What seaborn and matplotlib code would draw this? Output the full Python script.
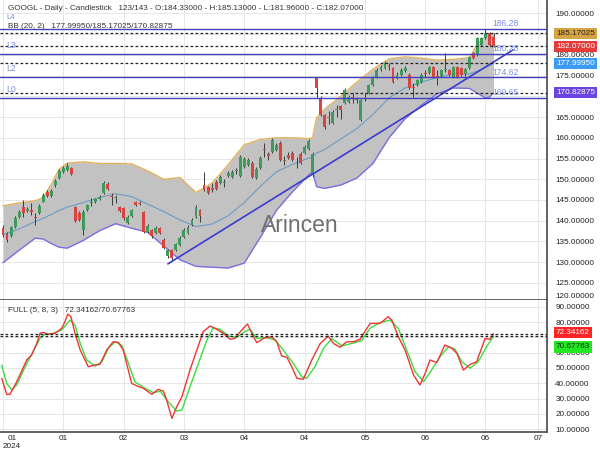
import matplotlib
matplotlib.use("Agg")
import matplotlib.pyplot as plt
import matplotlib.transforms as mtransforms
from matplotlib.ticker import FuncFormatter
import numpy as np
import pandas as pd
import seaborn as sns

# ---------------- data ----------------
opens = [138.3, 136.8, 136.4, 138.5, 141.0, 143.3, 142.4, 142.5, 140.9, 141.9,
         144.6, 147.0, 146.0, 148.7, 150.3, 151.8, 152.2, 152.7, 143.3, 141.9,
         137.8, 142.6, 144.3, 144.5, 145.3, 146.7, 148.9, 146.0, 145.6, 143.3,
         143.0, 139.5, 141.2, 144.5, 144.3, 142.1, 137.3, 137.8, 137.1, 138.3,
         135.4, 131.6, 133.0, 133.0, 134.2, 136.1, 137.1, 139.0, 140.9, 142.6,
         148.6, 148.1, 148.0, 149.4, 149.1, 149.2, 150.8, 150.6, 151.9, 150.8,
         153.0, 153.5, 154.0, 150.3, 152.7, 157.2, 156.0, 156.6, 157.1, 158.8,
         154.6, 155.9, 156.3, 154.5, 156.1, 156.3, 157.3, 151.0, 174.3, 169.6,
         165.5, 165.0, 163.6, 166.6, 167.7, 168.4, 168.6, 169.8, 169.1, 164.3,
         169.4, 170.8, 172.7, 174.6, 176.3, 176.8, 177.4, 176.8, 174.6, 175.2,
         176.1, 175.2, 172.3, 172.7, 173.4, 175.5, 175.6, 177.0, 174.8, 175.0,
         176.3, 176.3, 174.6, 177.0, 176.8, 175.3, 176.8, 180.4, 180.0, 182.4,
         184.0, 185.2, 184.33]
highs = [139.0, 137.2, 138.8, 141.2, 142.6, 145.0, 143.2, 144.2, 141.8, 144.0,
         146.8, 147.4, 147.6, 150.1, 152.4, 153.1, 153.9, 153.0, 143.6, 142.3,
         142.5, 144.1, 145.4, 145.6, 146.3, 149.5, 149.3, 146.7, 146.2, 143.6,
         143.3, 141.3, 142.9, 144.8, 144.8, 142.4, 139.2, 138.1, 138.7, 138.6,
         135.8, 133.3, 133.3, 134.7, 136.3, 138.2, 138.9, 140.6, 143.7, 142.9,
         151.8, 148.4, 149.1, 149.8, 151.0, 150.1, 152.0, 152.2, 152.8, 155.8,
         155.4, 155.1, 154.4, 152.9, 155.5, 158.8, 156.6, 159.9, 158.8, 159.2,
         155.5, 156.5, 156.8, 155.4, 156.5, 158.2, 159.6, 156.5, 174.4, 170.0,
         165.8, 166.5, 166.7, 167.9, 167.9, 171.9, 170.3, 170.8, 169.9, 169.4,
         170.8, 173.0, 174.8, 176.7, 177.6, 178.5, 178.0, 177.1, 175.8, 176.7,
         177.2, 175.6, 173.2, 174.2, 175.6, 176.3, 177.4, 177.4, 176.3, 176.6,
         180.4, 176.6, 177.3, 177.3, 177.1, 176.9, 179.8, 180.7, 184.3, 184.4,
         186.3, 185.5, 185.13]
lows = [136.0, 134.9, 136.0, 138.2, 140.7, 141.0, 142.0, 141.5, 139.0, 141.6,
        144.4, 145.8, 145.8, 148.2, 150.0, 151.5, 152.0, 151.0, 139.7, 139.9,
        136.6, 142.3, 143.6, 144.2, 145.0, 146.4, 147.3, 143.8, 144.3, 142.1,
        140.3, 139.2, 141.0, 143.5, 143.7, 137.0, 137.0, 135.9, 136.8, 136.8,
        133.2, 131.0, 130.3, 132.7, 134.0, 135.8, 136.8, 138.7, 140.6, 139.8,
        147.1, 146.4, 146.9, 147.4, 148.8, 148.2, 150.5, 150.3, 151.2, 150.5,
        152.7, 153.2, 150.3, 150.0, 152.4, 155.4, 154.6, 156.3, 156.8, 154.4,
        153.5, 154.8, 154.3, 152.7, 153.6, 156.0, 157.0, 150.6, 169.6, 165.2,
        162.2, 163.2, 163.3, 165.0, 164.5, 168.1, 168.3, 168.4, 168.4, 164.0,
        168.9, 170.5, 172.4, 174.3, 176.0, 176.5, 176.3, 173.1, 174.2, 174.9,
        175.8, 171.7, 169.8, 172.4, 173.1, 174.6, 175.3, 174.3, 172.7, 174.7,
        175.9, 174.8, 174.3, 174.3, 174.8, 175.0, 176.5, 178.9, 179.7, 182.1,
        183.7, 182.1, 181.96]
closes = [136.6, 135.4, 138.5, 140.7, 142.2, 141.9, 142.8, 142.2, 140.6, 143.6,
          146.3, 146.0, 147.2, 149.6, 152.0, 152.7, 153.2, 151.3, 140.0, 140.2,
          142.1, 143.8, 144.6, 145.3, 145.8, 149.1, 147.6, 145.8, 145.8, 142.4,
          140.6, 140.9, 142.6, 143.8, 144.1, 137.3, 138.8, 136.4, 138.3, 137.1,
          133.5, 133.0, 131.0, 134.4, 135.9, 137.8, 138.5, 140.2, 143.3, 141.2,
          147.4, 146.7, 147.4, 147.7, 150.6, 149.4, 151.6, 151.8, 152.2, 155.4,
          155.0, 154.7, 150.6, 152.5, 155.1, 157.0, 155.6, 159.5, 158.3, 154.7,
          154.4, 155.1, 154.6, 154.3, 153.9, 157.8, 159.2, 156.1, 172.0, 165.5,
          162.6, 164.7, 166.3, 166.9, 166.7, 171.5, 169.8, 169.6, 169.3, 169.1,
          169.6, 172.7, 174.4, 176.3, 177.0, 178.0, 177.1, 173.4, 175.2, 176.3,
          176.8, 172.0, 172.0, 173.9, 175.2, 175.3, 177.0, 174.6, 174.6, 176.3,
          176.5, 175.1, 177.0, 174.6, 175.1, 176.6, 179.5, 179.2, 184.0, 184.0,
          185.2, 182.4, 182.07]

# Bollinger band (20, 2) values read at sample bars
band_x = [0, 4, 8, 10, 12, 14, 16, 20, 24, 28, 32, 36, 40, 44, 48, 52, 56, 60, 64,
          68, 72, 76, 77, 78, 80, 84, 88, 92, 96, 100, 104, 108, 112, 116, 118,
          120, 121, 122]
bb_upper = [143.6, 144.3, 144.8, 145.6, 148.8, 152.5, 153.9, 154.2, 153.8, 153.8,
            153.7, 152.0, 150.0, 150.4, 146.8, 149.1, 153.5, 158.3, 159.6, 160.0,
            160.0, 159.8, 160.0, 164.8, 166.9, 170.0, 173.4, 176.5, 179.0, 179.5,
            179.2, 178.7, 178.9, 179.3, 182.5, 184.5, 184.9, 185.17025]
bb_mid = [136.7, 138.0, 139.8, 140.6, 141.5, 142.5, 143.3, 144.4, 145.6, 146.5,
          145.8, 144.0, 142.2, 140.2, 138.6, 139.2, 141.2, 144.4, 148.3, 151.8,
          153.6, 155.1, 155.3, 156.3, 157.2, 159.7, 162.2, 165.6, 169.6, 172.0,
          173.4, 174.5, 175.4, 175.4, 176.1, 176.9, 177.4, 177.9995]
bb_lower = [129.9, 132.9, 135.8, 135.6, 134.5, 133.6, 133.4, 135.3, 137.6, 139.3,
            138.2, 137.2, 133.9, 130.6, 129.0, 128.8, 128.6, 129.8, 136.0, 142.5,
            147.0, 151.0, 151.8, 148.2, 147.8, 148.6, 150.3, 153.8, 160.0, 164.6,
            167.8, 170.6, 172.0, 171.9, 170.7, 169.6, 169.8, 170.82875]

# Full stochastic (5, 8, 3)
stoch_k_x = [-0.3, 0.9, 1.7, 3.0, 4.2, 5.9, 7.1, 8.4, 9.2, 10.0, 11.2, 12.9, 14.6, 15.4,
             16.1, 16.9, 17.9, 19.2, 21.2, 22.9, 24.1, 25.8, 27.4, 28.7, 29.9, 32.0,
             33.3, 34.9, 37.0, 38.6, 39.9, 40.7, 42.0, 43.2, 44.5, 46.5, 48.2, 49.8,
             51.5, 53.2, 54.8, 56.5, 57.7, 59.0, 60.8, 61.9, 63.1, 64.8, 66.8, 68.1,
             69.3, 70.6, 71.8, 73.1, 74.7, 76.8, 78.9, 80.9, 82.2, 83.8, 85.5, 87.2,
             88.8, 90.0, 91.3, 93.8, 95.8, 96.7, 98.3, 100.0, 102.1, 103.7, 105.0,
             106.2, 107.9, 109.9, 111.6, 112.9, 114.5, 116.2, 117.8, 119.9, 121.1, 122.0]
stoch_k = [43.2, 32.7, 32.7, 38.8, 45.4, 55.2, 58.4, 66.0, 72.6, 73.2, 72.0, 72.6, 75.9,
           80.2, 85.2, 83.5, 72.6, 61.7, 50.8, 51.9, 52.3, 61.7, 67.1, 66.6, 61.7, 39.9,
           38.2, 36.7, 32.7, 36.0, 34.8, 29.0, 17.0, 24.6, 31.2, 48.6, 61.7, 73.7, 77.4,
           75.2, 72.6, 68.7, 69.3, 73.7, 78.7, 72.6, 66.5, 69.3, 70.4, 67.1, 57.8, 57.0,
           50.8, 43.2, 42.6, 55.2, 66.0, 70.8, 66.0, 63.5, 67.1, 67.1, 68.7, 73.7, 79.1,
           79.1, 83.5, 81.3, 70.4, 61.7, 45.4, 38.8, 46.5, 55.2, 53.5, 65.0, 62.9, 59.5,
           48.6, 52.3, 54.0, 69.3, 68.7, 72.34162]
stoch_d_x = [-0.3, 0.9, 2.2, 3.4, 5.5, 7.5, 9.2, 10.4, 12.5, 14.6, 16.7, 17.9, 19.2, 20.8,
             22.9, 24.6, 26.2, 27.9, 29.5, 31.2, 32.8, 34.9, 37.4, 39.1, 41.1, 43.2,
             44.5, 46.5, 48.6, 50.7, 52.3, 54.0, 56.1, 58.1, 60.2, 61.4, 63.1, 65.6,
             67.7, 69.7, 72.2, 74.3, 75.5, 77.6, 79.7, 81.8, 84.3, 86.7, 89.2, 91.3,
             93.8, 96.3, 98.3, 100.4, 102.5, 104.6, 106.6, 108.7, 110.8, 112.4, 114.1,
             116.2, 118.2, 120.3, 122.0]
stoch_d = [51.9, 39.9, 35.6, 38.8, 50.8, 60.6, 69.3, 72.0, 72.6, 74.8, 81.3, 78.0, 66.0,
           55.2, 51.2, 54.1, 62.8, 67.1, 65.0, 53.0, 41.0, 37.3, 33.8, 34.8, 27.9, 21.8,
           22.5, 37.7, 53.0, 68.2, 76.3, 75.2, 70.8, 70.0, 73.7, 75.2, 69.3, 69.9, 68.2,
           61.7, 53.0, 44.3, 43.2, 50.8, 62.8, 69.3, 64.3, 66.0, 67.8, 75.9, 79.6, 81.3,
           75.9, 61.7, 47.5, 41.0, 48.6, 57.3, 63.9, 62.3, 54.1, 49.8, 54.1, 63.9, 70.67763]

levels = [186.28, 180.28, 174.62, 169.65]
level_names = ["L4", "L3", "L2", "L0"]
level_texts = ["186.28", "180.28", "174.62", "169.65"]
trend_x = [41.0, 126.9]
trend_y = [129.6, 181.2]

tick_pos = [0, 15, 30, 45, 60, 75, 90, 105, 120, 133]
tick_labels = ["01\n2024", "01", "02", "03", "04", "04", "05", "06", "06", "07"]

title_text = ("GOOGL - Daily - Candlestick   123/143 - O:184.33000 - H:185.13000 - "
              "L:181.96000 - C:182.07000")
bb_text = "BB (20, 2)   177.99950/185.17025/170.82875"
stoch_text = "FULL (5, 8, 3)   72.34162/70.67763"

# tick values whose labels sit under a last-value box in the reference
hidden_main = [185, 170]
hidden_stoch = [70]

# ---------------- style ----------------
sns.set_style("white")
plt.rcParams['font.family'] = ['Liberation Sans', 'DejaVu Sans']
FS = 5.9
TXT = '#333333'
GRID = '#e6e6e6'
SPINE = '#555555'
UP = '#3f9a5c'
DOWN = '#d9443f'
LEVEL = '#4141bd'
LEVEL_TXT = '#7b90e3'

fig = plt.figure(figsize=(6, 4.5), dpi=100)
ax = fig.add_axes([0, 150 / 450, 547 / 600, 300 / 450])
ax2 = fig.add_axes([0, 18 / 450, 547 / 600, 132 / 450])


def make_fmt(hidden):
    def f(v, pos):
        if any(abs(v - h) < 1e-6 for h in hidden):
            return ''
        return '%.5f' % v
    return FuncFormatter(f)


for a in (ax, ax2):
    a.set_xlim(-0.75, 135.3)
    a.set_facecolor('white')
    for s in ('left', 'top'):
        a.spines[s].set_visible(False)
    for s in ('right', 'bottom'):
        a.spines[s].set_color(SPINE)
        a.spines[s].set_linewidth(1.3)
    a.set_xticks(tick_pos)
    a.grid(True, color=GRID, lw=0.7)
    a.set_axisbelow(True)
    a.yaxis.tick_right()
    a.tick_params(axis='y', length=0, pad=6, labelsize=FS, labelcolor='#222222')
    a.tick_params(axis='x', length=0, pad=2, labelsize=FS, labelcolor='#222222')

ax.set_ylim(120.9, 193.2)
ax.set_yticks(np.arange(125, 191, 5))
ax.yaxis.set_major_formatter(make_fmt(hidden_main))
ax.tick_params(axis='x', labelbottom=False)

ax2.set_ylim(8.1, 94.4)
ax2.set_yticks(np.arange(10, 91, 10))
ax2.yaxis.set_major_formatter(make_fmt(hidden_stoch))
ax2.set_xticklabels(tick_labels)
first = ax2.get_xticklabels()[0]
first.set_horizontalalignment('left')
first.set_multialignment('center')

# ---------------- Bollinger bands ----------------
bb = pd.DataFrame({'x': band_x, 'upper': bb_upper, 'mid': bb_mid, 'lower': bb_lower})
ax.fill_between(bb['x'], bb['lower'], bb['upper'], color='#c2c2c2', lw=0, zorder=1)
sns.lineplot(data=bb, x='x', y='upper', ax=ax, color='#e2b25c', lw=1.0, zorder=2)
sns.lineplot(data=bb, x='x', y='lower', ax=ax, color='#7a6fe2', lw=1.0, zorder=2)
sns.lineplot(data=bb, x='x', y='mid', ax=ax, color='#6b9cc4', lw=0.8, zorder=2)

ax.text(300 / 547, 0.25, "Arincen", transform=ax.transAxes, fontsize=16.5,
        color='#707070', ha='center', va='center', zorder=2.5)

# ---------------- candles ----------------
df = pd.DataFrame({'x': np.arange(len(closes)), 'o': opens, 'h': highs, 'l': lows, 'c': closes})
df['up'] = df['c'] >= df['o']
df['bottom'] = df[['o', 'c']].min(axis=1)
df['height'] = (df['c'] - df['o']).abs().clip(lower=0.15)
ax.vlines(df['x'], df['l'], df['h'], color='#3a3a3a', lw=0.7, zorder=3)
ax.bar(df['x'], df['height'], bottom=df['bottom'], width=0.72,
       color=np.where(df['up'], UP, DOWN), lw=0, zorder=3.2)

# ---------------- levels, trendline, last values ----------------
blend = mtransforms.blended_transform_factory(ax.transAxes, ax.transData)
for lv, nm, tx in zip(levels, level_names, level_texts):
    ax.axhline(lv, color=LEVEL, lw=1.0, zorder=4)
    if nm == "L4":
        dy, fs = 2.8, FS - 0.4
    else:
        dy, fs = 2.0, FS + 0.3
    ax.text(0.011, lv + dy, nm, transform=blend, fontsize=fs, color=LEVEL_TXT,
            va='center', ha='left', zorder=5)
    ax.text(492 / 547, lv + 1.2, tx, transform=blend, fontsize=FS + 0.3, color=LEVEL_TXT,
            va='center', ha='left', zorder=5)

ax.plot(trend_x, trend_y, color='#3b3bd0', lw=1.2, zorder=4)

dash = (0, (2.2, 1.8))
for v in (bb_upper[-1], closes[-1], bb_mid[-1], bb_lower[-1]):
    ax.axhline(v, color='#222222', lw=0.9, ls=dash, zorder=4.5)


def value_box(a, y, text, bg, fg):
    tr = mtransforms.blended_transform_factory(a.transAxes, a.transData)
    a.text(1.0165, y, text, transform=tr, fontsize=FS, color=fg, ha='left', va='center',
           clip_on=False, zorder=10,
           bbox=dict(boxstyle='square,pad=0.25', fc=bg, ec='none'))


value_box(ax, bb_upper[-1], "185.17025", '#d7a444', '#222222')
value_box(ax, closes[-1], "182.07000", '#e53a3a', 'white')
value_box(ax, bb_mid[-1], "177.99950", '#3a9bf5', 'white')
value_box(ax, bb_lower[-1], "170.82875", '#6b43e0', 'white')
ax.text(1.0146, 0.013, "120.00000", transform=ax.transAxes, fontsize=FS,
        color='#222222', ha='left', va='center', clip_on=False)

ax.text(8 / 547, 1 - 8.5 / 300, title_text, transform=ax.transAxes, fontsize=FS,
        color=TXT, ha='left', va='center', zorder=6)
ax.text(8 / 547, 1 - 26.5 / 300, bb_text, transform=ax.transAxes, fontsize=FS,
        color=TXT, ha='left', va='center', zorder=6)

# ---------------- stochastic ----------------
sk = pd.DataFrame({'x': stoch_k_x, 'k': stoch_k})
sd = pd.DataFrame({'x': stoch_d_x, 'd': stoch_d})
sns.lineplot(data=sd, x='x', y='d', ax=ax2, color='#3ddc3d', lw=1.0, zorder=3)
sns.lineplot(data=sk, x='x', y='k', ax=ax2, color='#f03535', lw=1.0, zorder=3.1)
for v in (stoch_k[-1], stoch_d[-1]):
    ax2.axhline(v, color='#222222', lw=0.9, ls=dash, zorder=4)
value_box(ax2, stoch_k[-1] + 0.6, "72.34162", '#ff2424', 'white')
value_box(ax2, stoch_d[-1] - 7.0, "70.67763", '#22e822', '#222222')
ax2.text(8 / 547, 1 - 11 / 132, stoch_text, transform=ax2.transAxes, fontsize=FS,
         color=TXT, ha='left', va='center', zorder=6)

for a in (ax, ax2):
    a.set_xlabel('')
    a.set_ylabel('')

fig.savefig("out.png", dpi=100)
